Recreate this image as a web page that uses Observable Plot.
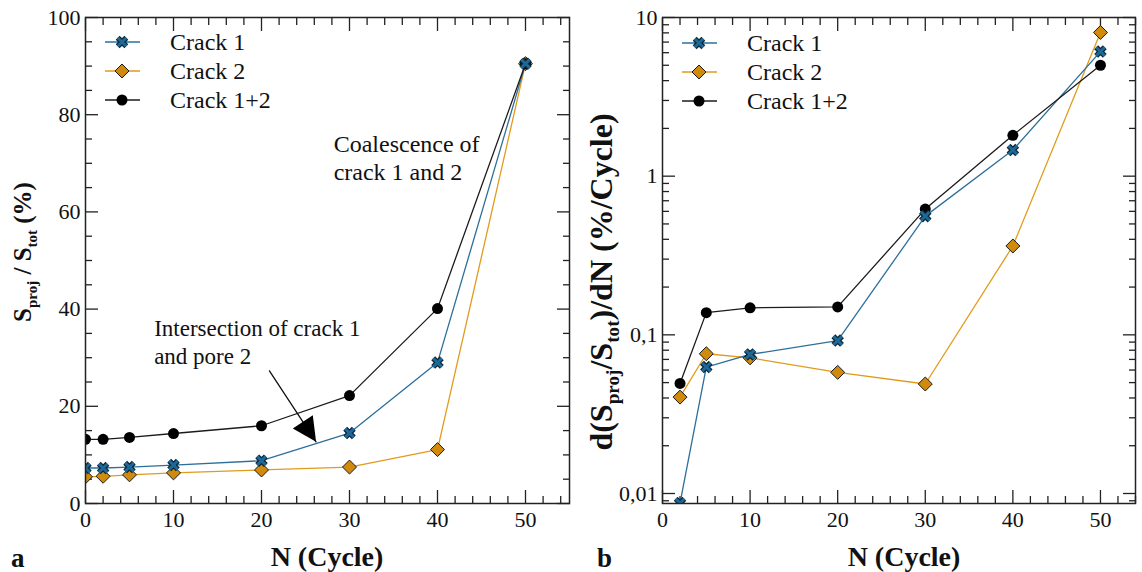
<!DOCTYPE html>
<html><head><meta charset="utf-8">
<script src="https://cdn.jsdelivr.net/npm/d3@7"></script>
<script src="https://cdn.jsdelivr.net/npm/@observablehq/plot@0.6"></script>
<style>
html,body{margin:0;padding:0;background:#fff;}
#root{display:flex;width:1142px;height:572px;overflow:hidden;background:#fff;}
#root svg{display:block;}
</style></head><body><div id="root"></div>
<script>
const FONT = '"Liberation Serif", "Times New Roman", serif';

// ---- data ----
const cycles = [0, 2, 5, 10, 20, 30, 40, 50];
const crack1Pct  = [7.3, 7.3, 7.5, 7.9, 8.8, 14.5, 29.0, 90.5];
const crack2Pct  = [5.5, 5.6, 5.9, 6.3, 6.9, 7.5, 11.1, 90.5];
const crack12Pct = [13.2, 13.2, 13.6, 14.4, 16.0, 22.2, 40.1, 90.5];

const rateCycles  = [2, 5, 10, 20, 30, 40, 50];
const crack1Rate  = [0.0087, 0.0626, 0.0752, 0.092, 0.56, 1.46, 6.1];
const crack2Rate  = [0.0405, 0.076, 0.0716, 0.058, 0.049, 0.363, 8.05];
const crack12Rate = [0.0494, 0.138, 0.148, 0.150, 0.62, 1.81, 5.0];

const seriesNames = ["Crack 1", "Crack 2", "Crack 1+2"];
const lineColors  = ["#2c6f9b", "#e29a1c", "#1b1b1b"];
const markerFills = ["#1d6896", "#d08b0c", "#000000"];

const xTicksMajor = [0, 10, 20, 30, 40, 50];
const yTicksLeft  = [0, 20, 40, 60, 80, 100];
const yTicksRight = [0.01, 0.1, 1, 10];
const yTickLabelsRight = ["0,01", "0,1", "1", "10"];
const panelLabels = ["a", "b"];
const xTitle = "N (Cycle)";
const yTitleLeft  = [["S"], ["proj", 1], [" / S"], ["tot", 1], [" (%)"]];
const yTitleRight = [["d(S"], ["proj", 1], ["/S"], ["tot", 1], [")/dN (%/Cycle)"]];

const coalescenceNote  = [{x: 28.2, y: 71.3, text: "Coalescence of\ncrack 1 and 2"}];
const intersectionNote = [{x: 7.8,  y: 33.4, text: "Intersection of crack 1\nand pore 2"}];
const arrows = [{x1: 20.9, y1: 27.3, x2: 26.2, y2: 12.7}];

// ---- helpers ----
function rows(xs, ys) {
  return ys.flatMap((vals, i) => vals.map((v, j) => ({x: xs[j], y: v, s: seriesNames[i], i})));
}
function seriesMarks(data) {
  const by = i => data.filter(d => d.i === i);
  const lines = [1, 0, 2].map(i => Plot.line(by(i), {x: "x", y: "y", stroke: lineColors[i], strokeWidth: 1.3, clip: true}));
  return [
    ...lines,
    Plot.dot(by(1), {x: "x", y: "y", symbol: "diamond2", r: 6.3, fill: markerFills[1], stroke: "#1a1a1a", strokeWidth: 1, clip: true}),
    Plot.dot(by(2), {x: "x", y: "y", symbol: "circle", r: 5.5, fill: markerFills[2], stroke: "none", clip: true}),
    Plot.dot(by(0), {x: "x", y: "y", symbol: "times", r: 4, stroke: "#0c2636", strokeWidth: 5.5, clip: true}),
    Plot.dot(by(0), {x: "x", y: "y", symbol: "times", r: 4, stroke: markerFills[0], strokeWidth: 3, clip: true})
  ];
}
function tickMarks(xMaj, xMin, yMaj, yMin) {
  const o = {tickFormat: () => "", label: null, stroke: "#222", strokeWidth: 1.3};
  return [
    Plot.axisX(xMaj, {...o, anchor: "bottom", tickSize: -13}),
    Plot.axisX(xMin, {...o, anchor: "bottom", tickSize: -7}),
    Plot.axisX(xMaj, {...o, anchor: "top", tickSize: -13}),
    Plot.axisX(xMin, {...o, anchor: "top", tickSize: -7}),
    Plot.axisY(yMaj, {...o, anchor: "left", tickSize: -13}),
    Plot.axisY(yMin, {...o, anchor: "left", tickSize: -7}),
    Plot.axisY(yMaj, {...o, anchor: "right", tickSize: -13}),
    Plot.axisY(yMin, {...o, anchor: "right", tickSize: -7})
  ];
}
function decorate(svg, opts) {
  const s = d3.select(svg);
  // legend
  const g = s.append("g").attr("font-family", FONT).attr("text-anchor", "start");
  seriesNames.forEach((name, i) => {
    const y = opts.legendTop + i * 29;
    const x0 = opts.frameLeft;
    g.append("line").attr("x1", x0 + 20).attr("x2", x0 + 55).attr("y1", y).attr("y2", y)
      .attr("stroke", lineColors[i]).attr("stroke-width", 1.4);
    const cx = x0 + 37;
    if (i === 0) {
      const p = d3.symbol(d3.symbolTimes, 4 * 4 * Math.PI)();
      g.append("path").attr("d", p).attr("transform", `translate(${cx},${y})`).attr("fill", "none").attr("stroke", "#0c2636").attr("stroke-width", 5.5);
      g.append("path").attr("d", p).attr("transform", `translate(${cx},${y})`).attr("fill", "none").attr("stroke", markerFills[0]).attr("stroke-width", 3);
    } else if (i === 1) {
      const p = d3.symbol(d3.symbolDiamond2, 6.3 * 6.3 * Math.PI)();
      g.append("path").attr("d", p).attr("transform", `translate(${cx},${y})`).attr("fill", markerFills[1]).attr("stroke", "#1a1a1a").attr("stroke-width", 1);
    } else {
      g.append("circle").attr("cx", cx).attr("cy", y).attr("r", 5.5).attr("fill", "#000");
    }
    g.append("text").attr("x", x0 + 85).attr("y", y).attr("dy", "0.35em").attr("font-size", 24).attr("fill", "#111").text(name);
  });
  // x title
  s.append("text").attr("x", opts.xTitleX).attr("y", 566).attr("text-anchor", "middle")
    .attr("font-family", FONT).attr("font-weight", "bold").attr("font-size", 28).attr("fill", "#111").text(xTitle);
  // panel letter
  s.append("text").attr("x", opts.letterX).attr("y", 567).attr("text-anchor", "start")
    .attr("font-family", FONT).attr("font-weight", "bold").attr("font-size", 27).attr("fill", "#111").text(opts.letter);
  // y title with subscripts
  const t = s.append("text").attr("transform", `translate(${opts.yTitleX},${opts.yTitleY}) rotate(-90)`)
    .attr("text-anchor", "middle").attr("font-family", FONT).attr("font-weight", "bold")
    .attr("font-size", opts.yTitleSize).attr("fill", "#111");
  let shifted = false;
  opts.yTitle.forEach(([txt, sub]) => {
    const sp = t.append("tspan").text(txt);
    const shift = Math.round(opts.yTitleSize * 0.22);
    if (sub) { sp.attr("font-size", opts.yTitleSize * 0.6); if (!shifted) sp.attr("dy", shift); shifted = true; }
    else if (shifted) { sp.attr("dy", -shift); shifted = false; }
  });
}

const baseStyle = {fontFamily: FONT, fontSize: "22px", background: "#fff", color: "#111", overflow: "visible"};

// ---- left panel ----
const leftData = rows(cycles, [crack1Pct, crack2Pct, crack12Pct]);
const leftPlot = Plot.plot({
  width: 590, height: 572,
  marginLeft: 85, marginRight: 21, marginTop: 17, marginBottom: 69,
  style: baseStyle,
  x: {domain: [0, 55]},
  y: {domain: [0, 100]},
  marks: [
    ...tickMarks(xTicksMajor, d3.range(0, 56, 2).filter(v => v % 10), yTicksLeft, d3.range(0, 101, 5).filter(v => v % 20)),
    Plot.axisX(xTicksMajor, {anchor: "bottom", tickSize: 0, tickPadding: 8, label: null}),
    Plot.axisY(yTicksLeft, {anchor: "left", tickSize: 0, tickPadding: 5, label: null}),
    ...seriesMarks(leftData),
    Plot.text(coalescenceNote, {x: "x", y: "y", text: "text", textAnchor: "start", lineAnchor: "middle", fontSize: 24, lineHeight: 1.17, fill: "#111"}),
    Plot.text(intersectionNote, {x: "x", y: "y", text: "text", textAnchor: "start", lineAnchor: "middle", fontSize: 23, lineHeight: 1.22, fill: "#111"}),
    Plot.arrow(arrows, {x1: "x1", y1: "y1", x2: "x2", y2: "y2", headLength: 0, stroke: "#111", strokeWidth: 1.3}),
    Plot.vector(arrows, {x: "x2", y: "y2", rotate: 146.5, length: 24, r: 12, shape: "spike", anchor: "end", fill: "#000", stroke: "none"}),
    Plot.frame({stroke: "#222", strokeWidth: 1.5})
  ]
});
decorate(leftPlot, {legendTop: 42, frameLeft: 85, xTitleX: 327, letterX: 11, letter: panelLabels[0],
  yTitleX: 31, yTitleY: 252, yTitleSize: 25, yTitle: yTitleLeft});

// ---- right panel ----
const rightData = rows(rateCycles, [crack1Rate, crack2Rate, crack12Rate]);
const logMinor = [];
for (const k of [-3, -2, -1, 0]) for (let m = 2; m <= 9; m++) logMinor.push(m * Math.pow(10, k));
const rightPlot = Plot.plot({
  width: 552, height: 572,
  marginLeft: 72, marginRight: 7, marginTop: 17, marginBottom: 69,
  style: baseStyle,
  x: {domain: [0, 54]},
  y: {type: "log", domain: [0.00865, 10]},
  marks: [
    ...tickMarks(xTicksMajor, d3.range(0, 55, 2).filter(v => v % 10), yTicksRight, logMinor.filter(v => v >= 0.00865 && v <= 10)),
    Plot.axisX(xTicksMajor, {anchor: "bottom", tickSize: 0, tickPadding: 8, label: null}),
    Plot.axisY(yTicksRight, {anchor: "left", tickSize: 0, tickPadding: 5, label: null, tickFormat: d => yTickLabelsRight[yTicksRight.indexOf(d)]}),
    ...seriesMarks(rightData),
    Plot.frame({stroke: "#222", strokeWidth: 1.5})
  ]
});
decorate(rightPlot, {legendTop: 43, frameLeft: 72, xTitleX: 314, letterX: 7, letter: panelLabels[1],
  yTitleX: 22, yTitleY: 282, yTitleSize: 32, yTitle: yTitleRight});

document.getElementById("root").append(leftPlot, rightPlot);
</script></body></html>
